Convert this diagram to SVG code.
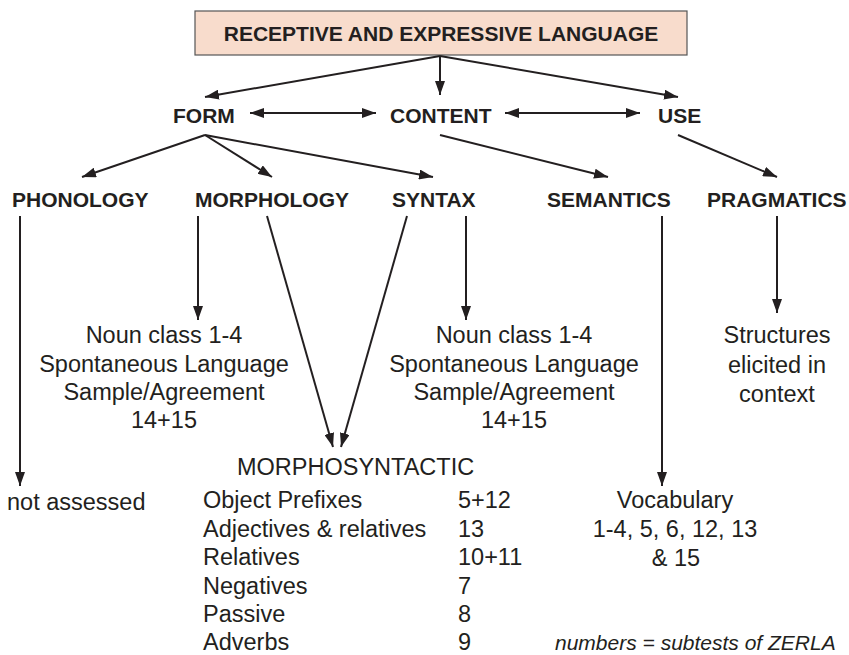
<svg xmlns="http://www.w3.org/2000/svg" width="849" height="655" viewBox="0 0 849 655">
<style>
text{font-family:"Liberation Sans",Arial,sans-serif;fill:#231f20}
.h{font-weight:bold;font-size:21px}
.t{font-size:23.5px}
.c{text-anchor:middle}
.ln{stroke:#231f20;stroke-width:2;fill:none}
</style>
<defs>
<marker id="ah" viewBox="0 0 14 10" refX="14" refY="5" markerWidth="14" markerHeight="10" markerUnits="userSpaceOnUse" orient="auto-start-reverse">
<path d="M0,0 L14,5 L0,10 Z" fill="#231f20"/>
</marker>
</defs>
<rect width="849" height="655" fill="#fff"/>
<g id="title">
<rect x="195" y="11" width="492" height="44" fill="#f8dccc" stroke="#555" stroke-width="1.2"/>
<text class="h c" x="441" y="41">RECEPTIVE AND EXPRESSIVE LANGUAGE</text>
</g>
<g id="form"><text class="h" x="173" y="123">FORM</text></g>
<g id="content"><text class="h" x="390" y="123">CONTENT</text></g>
<g id="use"><text class="h" x="658" y="123">USE</text></g>
<g id="phonology"><text class="h" x="12" y="207">PHONOLOGY</text></g>
<g id="morphology"><text class="h" x="195" y="207">MORPHOLOGY</text></g>
<g id="syntax"><text class="h" x="392" y="207">SYNTAX</text></g>
<g id="semantics"><text class="h" x="547" y="207">SEMANTICS</text></g>
<g id="pragmatics"><text class="h" x="707" y="207">PRAGMATICS</text></g>
<g id="morph-noun">
<text class="t c" x="164" y="343">Noun class 1-4</text>
<text class="t c" x="164" y="372">Spontaneous Language</text>
<text class="t c" x="164" y="400">Sample/Agreement</text>
<text class="t c" x="164" y="428">14+15</text>
</g>
<g id="syntax-noun">
<text class="t c" x="514" y="343">Noun class 1-4</text>
<text class="t c" x="514" y="372">Spontaneous Language</text>
<text class="t c" x="514" y="400">Sample/Agreement</text>
<text class="t c" x="514" y="428">14+15</text>
</g>
<g id="structures">
<text class="t c" x="777" y="343">Structures</text>
<text class="t c" x="777" y="373">elicited in</text>
<text class="t c" x="777" y="402">context</text>
</g>
<g id="not-assessed"><text class="t" x="7" y="510">not assessed</text></g>
<g id="morphosyntactic">
<text class="t" x="237" y="475">MORPHOSYNTACTIC</text>
<text class="t" x="203" y="508">Object Prefixes</text><text class="t" x="458" y="508">5+12</text>
<text class="t" x="203" y="537">Adjectives &amp; relatives</text><text class="t" x="458" y="537">13</text>
<text class="t" x="203" y="565">Relatives</text><text class="t" x="458" y="565">10+11</text>
<text class="t" x="203" y="594">Negatives</text><text class="t" x="458" y="594">7</text>
<text class="t" x="203" y="622">Passive</text><text class="t" x="458" y="622">8</text>
<text class="t" x="203" y="650">Adverbs</text><text class="t" x="458" y="650">9</text>
</g>
<g id="vocabulary">
<text class="t c" x="675" y="508">Vocabulary</text>
<text class="t c" x="675" y="537">1-4, 5, 6, 12, 13</text>
<text class="t c" x="676" y="566">&amp; 15</text>
</g>
<g id="note"><text x="555" y="650" font-size="21" font-style="italic">numbers = subtests of ZERLA</text></g>
<g id="connectors" class="ln">
<path class="ln" d="M440,56 L205,97" marker-end="url(#ah)"/>
<path class="ln" d="M440,56 L440,95" marker-end="url(#ah)"/>
<path class="ln" d="M440,56 L678,97" marker-end="url(#ah)"/>
<path class="ln" d="M250,113 L376,113" marker-start="url(#ah)" marker-end="url(#ah)"/>
<path class="ln" d="M505,113 L640,113" marker-start="url(#ah)" marker-end="url(#ah)"/>
<path class="ln" d="M205,135 L82,177" marker-end="url(#ah)"/>
<path class="ln" d="M205,135 L272,177" marker-end="url(#ah)"/>
<path class="ln" d="M205,135 L433,177" marker-end="url(#ah)"/>
<path class="ln" d="M440,135 L608,177" marker-end="url(#ah)"/>
<path class="ln" d="M678,135 L777,177" marker-end="url(#ah)"/>
<path class="ln" d="M20,216 L20,486" marker-end="url(#ah)"/>
<path class="ln" d="M198,216 L198,320" marker-end="url(#ah)"/>
<path class="ln" d="M267,216 L333,447" marker-end="url(#ah)"/>
<path class="ln" d="M407,216 L341,447" marker-end="url(#ah)"/>
<path class="ln" d="M466,216 L466,320" marker-end="url(#ah)"/>
<path class="ln" d="M662,216 L662,486" marker-end="url(#ah)"/>
<path class="ln" d="M777,216 L777,313" marker-end="url(#ah)"/>
</g>
</svg>
